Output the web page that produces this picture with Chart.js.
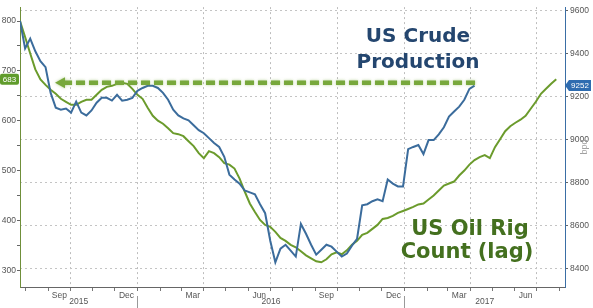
<!DOCTYPE html>
<html><head><meta charset="utf-8">
<script src="https://cdn.jsdelivr.net/npm/chart.js@4.4.1/dist/chart.umd.min.js"></script>
<style>html,body{margin:0;padding:0;background:#fff;overflow:hidden}#wrap{width:593px;height:308px;position:relative}</style>
</head><body><div id="wrap"><canvas id="c" width="593" height="308"></canvas></div>
<script>
// ---- data (weekly) ----
const firstWeek = '2015-07-24';
const axisStart = '2015-07-24';
const axisEnd = '2017-08-09';
// US crude production, thousand bpd (right axis)
const crudeProduction = [
 9554, 9425, 9471, 9412, 9366, 9338, 9218, 9149, 9140, 9145,
 9126, 9177, 9126, 9113, 9136, 9172, 9195, 9195, 9182, 9209,
 9182, 9186, 9195, 9228, 9241, 9251, 9251, 9241, 9218, 9186,
 9140, 9113, 9099, 9090, 9067, 9044, 9030, 9007, 8984, 8966,
 8920, 8837, 8814, 8795, 8763, 8754, 8745, 8699, 8657, 8529,
 8428, 8492, 8510, 8483, 8455, 8607, 8561, 8510, 8464, 8487,
 8510, 8501, 8478, 8455, 8469, 8506, 8538, 8694, 8699, 8713,
 8722, 8713, 8814, 8795, 8782, 8782, 8956, 8966, 8975, 8933,
 8998, 8998, 9025, 9058, 9108, 9131, 9154, 9186, 9237, 9252
];
// US oil rig count, lagged (left axis)
const rigCountLagged = [
 800, 768, 735, 703, 683, 672, 662, 654, 644, 638,
 632, 632, 638, 642, 642, 652, 662, 668, 670, 674,
 676, 674, 664, 652, 644, 626, 610, 600, 594, 585,
 575, 573, 569, 559, 549, 535, 525, 539, 535, 527,
 515, 512, 504, 484, 458, 434, 417, 401, 391, 387,
 377, 365, 359, 351, 346, 338, 330, 324, 318, 316,
 322, 332, 336, 332, 340, 351, 359, 371, 375, 383,
 391, 403, 405, 409, 415, 419, 423, 427, 432, 434,
 442, 450, 460, 470, 474, 478, 490, 500, 512, 521,
 527, 531, 525, 547, 563, 579, 589, 596, 602, 610,
 624, 638, 654, 664, 674, 683
];
const leftTicks = [300, 350, 400, 450, 500, 550, 600, 650, 700, 750, 800];
const rightTicks = [8400, 8600, 8800, 9000, 9200, 9400, 9600];
// quarter tick (month index of tick) -> label of preceding month
const quarterLabels = {9: 'Sep', 0: 'Dec', 3: 'Mar', 6: 'Jun'};
const yearLabels = ['2015', '2016', '2017'];
const arrowLevel = 9265;

// ---- build ----
const DAY = 86400000;
const t0 = Date.parse(firstWeek + 'T00:00:00Z');
const xMin = Date.parse(axisStart + 'T00:00:00Z');
const xMax = Date.parse(axisEnd + 'T00:00:00Z');
const prodPts = crudeProduction.map((v, i) => ({x: t0 + i * 7 * DAY, y: v}));
const rigPts = rigCountLagged.map((v, i) => ({x: t0 + i * 7 * DAY, y: v}));

const monthTicks = [];
{
  const d = new Date(xMin);
  let y = d.getUTCFullYear(), m = d.getUTCMonth() + 1;
  while (true) {
    const t = Date.UTC(y, m, 1);
    if (t > xMax) break;
    monthTicks.push(t);
    m++; if (m > 11) { m = 0; y++; }
  }
}
const isQuarter = t => quarterLabels[new Date(t).getUTCMonth()] !== undefined;

Chart.defaults.font.family = '"Liberation Sans", Arial, sans-serif';
Chart.defaults.font.size = 8.5;
Chart.defaults.color = '#555';

const annot = {
  id: 'annot',
  afterDatasetsDraw(chart) {
    const {ctx, scales: {x, yR}} = chart;
    // dashed arrow
    const y = yR.getPixelForValue(arrowLevel);
    const xTip = x.getPixelForValue(Date.UTC(2015, 8, 10));
    const xEnd = x.getPixelForValue(prodPts[prodPts.length - 1].x) + 4;
    ctx.save();
    ctx.shadowColor = 'rgba(120,170,60,0.55)';
    ctx.shadowBlur = 3;
    ctx.strokeStyle = '#78a83c';
    ctx.fillStyle = '#78a83c';
    ctx.lineWidth = 4.5;
    ctx.setLineDash([9, 4]);
    ctx.beginPath();
    ctx.moveTo(xTip + 8, y);
    ctx.lineTo(xEnd, y);
    ctx.stroke();
    ctx.setLineDash([]);
    ctx.beginPath();
    ctx.moveTo(xTip, y);
    ctx.lineTo(xTip + 10, y - 5.5);
    ctx.lineTo(xTip + 10, y + 5.5);
    ctx.closePath();
    ctx.fill();
    ctx.restore();
  },
  afterDraw(chart) {
    const {ctx, scales: {x, yL, yR}, chartArea} = chart;
    ctx.save();
    // big labels
    ctx.textAlign = 'center';
    ctx.textBaseline = 'alphabetic';
    ctx.font = 'bold 20px "DejaVu Sans", sans-serif';
    ctx.fillStyle = '#24466f';
    ctx.fillText('US Crude', 418, 42);
    ctx.fillText('Production', 418, 68);
    ctx.font = 'bold 21px "DejaVu Sans", sans-serif';
    ctx.fillStyle = '#44701f';
    ctx.fillText('US Oil Rig', 470, 235);
    ctx.fillText('Count (lag)', 467, 258);

    // year labels & separators
    ctx.font = '8.5px "Liberation Sans", Arial, sans-serif';
    ctx.fillStyle = '#555';
    ctx.textBaseline = 'middle';
    yearLabels.forEach(yl => {
      const yr = +yl;
      const a = Math.max(xMin, Date.UTC(yr, 0, 1));
      const b = Math.min(xMax, Date.UTC(yr + 1, 0, 1));
      const cx = (x.getPixelForValue(a) + x.getPixelForValue(b)) / 2;
      ctx.fillText(yl, cx, 302);
      if (Date.UTC(yr, 0, 1) > xMin) {
        const sx = Math.round(x.getPixelForValue(Date.UTC(yr, 0, 1))) + 0.5;
        ctx.strokeStyle = '#999';
        ctx.lineWidth = 1;
        ctx.beginPath();
        ctx.moveTo(sx, 296);
        ctx.lineTo(sx, 308);
        ctx.stroke();
      }
    });

    // unit title on right axis
    ctx.save();
    ctx.translate(585, 147);
    ctx.rotate(-Math.PI / 2);
    ctx.fillStyle = '#a0a0a0';
    ctx.font = '9px "Liberation Sans", Arial, sans-serif';
    ctx.fillText('bpd', 0, 0);
    ctx.restore();

    // left value tag
    const lastRig = rigCountLagged[rigCountLagged.length - 1];
    const yl = yL.getPixelForValue(lastRig);
    ctx.fillStyle = '#609c2c';
    ctx.beginPath();
    ctx.roundRect(0, yl - 5.5, 19, 11, 2);
    ctx.fill();
    ctx.fillStyle = '#fff';
    ctx.font = '8px "Liberation Sans", Arial, sans-serif';
    ctx.fillText(String(lastRig), 9.5, yl + 0.5);

    // right value tag
    const lastProd = crudeProduction[crudeProduction.length - 1];
    const yr = yR.getPixelForValue(lastProd);
    const ax = chartArea.right;
    ctx.fillStyle = '#2e6cb0';
    ctx.beginPath();
    ctx.moveTo(ax, yr);
    ctx.lineTo(ax + 4, yr - 5.5);
    ctx.lineTo(ax + 26, yr - 5.5);
    ctx.lineTo(ax + 26, yr + 5.5);
    ctx.lineTo(ax + 4, yr + 5.5);
    ctx.closePath();
    ctx.fill();
    ctx.fillStyle = '#fff';
    ctx.fillText(String(lastProd), ax + 15, yr + 0.5);
    ctx.restore();
  }
};

new Chart(document.getElementById('c'), {
  type: 'line',
  data: {
    datasets: [
      {label: 'US Crude Production', data: prodPts, yAxisID: 'yR', borderColor: '#3b6c9c',
       borderWidth: 2, pointRadius: 0, tension: 0, order: 0},
      {label: 'US Oil Rig Count (lag)', data: rigPts, yAxisID: 'yL', borderColor: '#6b9b2c',
       borderWidth: 2, pointRadius: 0, tension: 0, order: 1}
    ]
  },
  options: {
    responsive: false,
    animation: false,
    events: [],
    layout: {padding: {top: 3, left: 0, right: 0, bottom: 0}},
    plugins: {legend: {display: false}, tooltip: {enabled: false}},
    scales: {
      x: {
        type: 'linear', min: xMin, max: xMax,
        afterBuildTicks(s) { s.ticks = monthTicks.map(v => ({value: v})); },
        afterFit(s) { s.height = 21; },
        grid: {
          color: c => (c.tick && isQuarter(c.tick.value)) ? '#bdbdbd' : 'rgba(0,0,0,0)',
          lineWidth: 1, drawTicks: true, tickLength: 4, tickColor: '#777'
        },
        border: {color: '#666', width: 1, dash: [2, 3]},
        ticks: {
          autoSkip: false, maxRotation: 0, minRotation: 0, padding: 0, labelOffset: -11,
          callback(v) { const l = quarterLabels[new Date(v).getUTCMonth()]; return l || ''; }
        }
      },
      yL: {
        position: 'left', min: 266.4, max: 828,
        afterBuildTicks(s) { s.ticks = leftTicks.map(v => ({value: v})); },
        afterFit(s) { s.width = 20; },
        grid: {drawOnChartArea: false, tickLength: 3, tickColor: '#666'},
        border: {color: '#6f8f3a', width: 1},
        ticks: {padding: 1, callback(v) { return v % 100 === 0 ? String(v) : ''; }}
      },
      yR: {
        position: 'right', min: 8313, max: 9618,
        afterBuildTicks(s) { s.ticks = rightTicks.map(v => ({value: v})); },
        afterFit(s) { s.width = 28; },
        grid: {color: '#c4c4c4', lineWidth: 1, tickLength: 3, tickColor: '#666'},
        border: {color: '#3a6ea5', width: 1, dash: [2, 3]},
        ticks: {padding: 2, callback(v) { return String(v); }}
      }
    }
  },
  plugins: [annot]
});
</script>
</body></html>
